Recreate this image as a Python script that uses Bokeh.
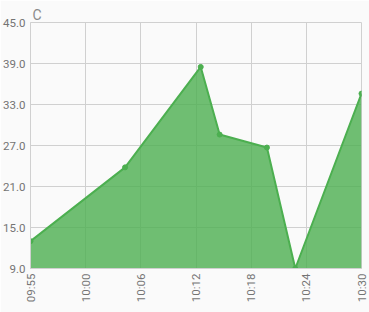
from bokeh.plotting import figure
from bokeh.models import Range1d, FixedTicker
from bokeh.embed import file_html
from bokeh.resources import INLINE

# data
times = ["09:55", "10:05", "10:13", "10:15", "10:20", "10:23", "10:30"]
values = [13.0, 23.8, 38.5, 28.6, 26.7, 9.0, 34.6]
x_tick_labels = ["09:55", "10:00", "10:06", "10:12", "10:18", "10:24", "10:30"]
y_ticks = [9.0, 15.0, 21.0, 27.0, 33.0, 39.0, 45.0]
unit_label = "C"

def to_min(t):
    h, m = t.split(":")
    return int(h) * 60 + int(m)

t0 = to_min(times[0])
t1 = to_min(times[-1])
xs = [to_min(t) - t0 for t in times]
span = t1 - t0
n = len(x_tick_labels) - 1
x_tick_pos = [span * i / n for i in range(n + 1)]

FONT = "Roboto"
GRID = "#d0d0d0"
BG = "#fafafa"
GREEN = "#4caf50"

p = figure(width=369, height=312, output_backend="svg", toolbar_location=None,
           x_range=Range1d(0, span), y_range=Range1d(y_ticks[0], y_ticks[-1]),
           min_border_left=30, min_border_right=8, min_border_top=22, min_border_bottom=44,
           title=unit_label)
p.background_fill_color = BG
p.border_fill_color = BG
p.outline_line_color = GRID

p.title.text_font = FONT
p.title.text_font_size = "14px"
p.title.text_font_style = "normal"
p.title.text_color = "#8a8a8a"
p.title.align = "left"
p.title.offset = 2
p.title.standoff = 0

p.varea(x=xs, y1=[y_ticks[0]] * len(xs), y2=values, fill_color=GREEN, fill_alpha=0.8)
p.line(xs, values, line_color=GREEN, line_width=2)
p.scatter(xs, values, size=5, fill_color=GREEN, line_color=GREEN)

p.xaxis.ticker = FixedTicker(ticks=x_tick_pos)
p.xaxis.major_label_overrides = {x: l for x, l in zip(x_tick_pos, x_tick_labels)}
p.xaxis.major_label_orientation = 1.5707963
p.yaxis.ticker = FixedTicker(ticks=y_ticks)
p.yaxis.major_label_overrides = {v: f"{v:.1f}" for v in y_ticks}

for ax in (p.xaxis[0], p.yaxis[0]):
    ax.major_tick_line_color = None
    ax.minor_tick_line_color = None
    ax.major_tick_out = 0
    ax.major_tick_in = 0
    ax.minor_tick_out = 0
    ax.minor_tick_in = 0
    ax.axis_line_color = GRID
    ax.major_label_text_font = FONT
    ax.major_label_text_font_size = "11.5px"
    ax.major_label_text_color = "#747474"
    ax.major_label_standoff = 5

p.xgrid.grid_line_color = GRID
p.ygrid.grid_line_color = GRID

open("out.html", "w").write(file_html(p, INLINE))
